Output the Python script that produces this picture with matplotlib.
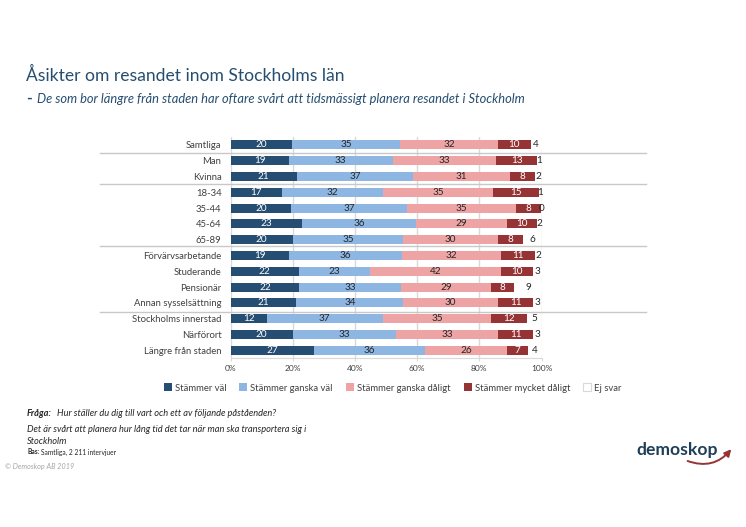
import matplotlib
matplotlib.use("Agg")
import matplotlib.pyplot as plt
import numpy as np
from matplotlib.patches import FancyArrowPatch

plt.rcParams["font.family"] = ["Lato", "DejaVu Sans"]

W, H = 746, 527
NAVY = "#264E70"
TXT = "#404040"

groups = ["Samtliga", "Man", "Kvinna", "18-34", "35-44", "45-64", "65-89",
          "Förvärvsarbetande", "Studerande", "Pensionär", "Annan sysselsättning",
          "Stockholms innerstad", "Närförort", "Längre från staden"]

# labels are the rounded values
val = [19.8, 18.7, 21.4, 16.6, 19.5, 23.1, 20.1, 18.7, 22.0, 22.1, 21.2, 11.6, 20.0, 26.9]
ganska_val = [34.7, 33.4, 37.4, 32.4, 37.4, 36.4, 35.4, 36.4, 22.8, 32.8, 34.4, 37.3, 33.2, 35.7]
ganska_daligt = [31.6, 33.4, 31.1, 35.4, 34.9, 29.4, 30.4, 31.8, 42.3, 28.8, 30.4, 34.9, 32.8, 26.3]
mycket_daligt = [10.4, 13.2, 8.0, 14.9, 8.0, 9.6, 8.3, 11.1, 10.3, 7.6, 11.3, 11.6, 11.3, 6.9]
ej_svar = [3.6, 1.2, 2.0, 0.6, 0.2, 1.6, 5.6, 2.0, 2.6, 8.7, 2.6, 4.6, 2.7, 4.2]

series = [("Stämmer väl", val, "#254E72", "white"),
          ("Stämmer ganska väl", ganska_val, "#8DB6E2", "#262626"),
          ("Stämmer ganska dåligt", ganska_daligt, "#EEA3A5", "#262626"),
          ("Stämmer mycket dåligt", mycket_daligt, "#953335", "white"),
          ("Ej svar", ej_svar, "white", "#262626")]

separators = [153, 184, 245.7, 311.7]


def fx(x):
    return x / W


def fy(y):
    return 1 - y / H


fig = plt.figure(figsize=(W / 100, H / 100), dpi=100, facecolor="white")
ax = fig.add_axes([fx(230.5), fy(358.2), 311 / W, 221.2 / H])

y = np.arange(len(groups))
left = np.zeros(len(groups))
for name, vals, color, lab_color in series:
    vals = np.array(vals)
    ax.barh(y, vals, 0.58, left=left, color=color, linewidth=0, label=name, zorder=3)
    for yi, l, v in zip(y, left, vals):
        ax.text(l + v / 2, yi, f"{v:.0f}", ha="center", va="center", fontsize=7.2,
                color=lab_color, zorder=5)
    left += vals

ax.set_xlim(0, 100)
ax.set_ylim(len(groups) - 0.5, -0.5)
ax.set_yticks(y, groups)
ax.set_xticks(np.arange(0, 101, 20), [f"{t}%" for t in range(0, 101, 20)])
ax.tick_params(axis="y", length=0, pad=6.5, labelsize=6.8, labelcolor=TXT)
ax.tick_params(axis="x", length=2, color="#D9D9D9", pad=3, labelsize=6, labelcolor=TXT)
ax.grid(axis="x", color="#D9D9D9", linewidth=1, zorder=0)
ax.set_axisbelow(True)
for side in ["top", "right", "left"]:
    ax.spines[side].set_visible(False)
ax.spines["bottom"].set_color("#D9D9D9")

# group separators run past the axes on both sides
for sy in separators:
    fig.add_artist(plt.Line2D([fx(100), fx(646)], [fy(sy), fy(sy)], color="#C8C8C8", linewidth=1))

handles, labels = ax.get_legend_handles_labels()
leg = fig.legend(handles, labels, loc="center left", bbox_to_anchor=(fx(159), fy(388)), ncol=5,
                 frameon=False, fontsize=6.8, handlelength=0.85, handleheight=0.85, handletextpad=0.3,
                 columnspacing=1.4, borderpad=0, labelcolor=TXT)
leg.get_patches()[-1].set_edgecolor("#D9D9D9")
leg.get_patches()[-1].set_linewidth(0.8)

fig.text(fx(26), fy(75), "Åsikter om resandet inom Stockholms län", fontsize=12.65, color=NAVY,
         va="center", ha="left")
fig.text(fx(26), fy(99), "-", fontsize=11, fontweight="bold", color=NAVY, va="center")
fig.text(fx(37), fy(99), "De som bor längre från staden har oftare svårt att tidsmässigt planera resandet i Stockholm",
         fontsize=9.3, style="italic", color=NAVY, va="center")

fig.text(fx(27), fy(414), "Fråga:", fontsize=6.7, style="italic", fontweight="bold", color="#262626", va="center")
fig.text(fx(57), fy(414), "Hur ställer du dig till vart och ett av följande påståenden?", fontsize=6.7,
         style="italic", color="#262626", va="center")
fig.text(fx(27), fy(429), "Det är svårt att planera hur lång tid det tar när man ska transportera sig i", fontsize=6.7,
         style="italic", color="#262626", va="center")
fig.text(fx(27), fy(441), "Stockholm", fontsize=6.7, style="italic", color="#262626", va="center")
fig.text(fx(27), fy(452), "Bas:", fontsize=4.8, fontweight="bold", color="#262626", va="center")
fig.text(fx(41), fy(452), "Samtliga, 2 211 intervjuer", fontsize=4.8, color="#262626", va="center")
fig.text(fx(5), fy(466), "© Demoskop AB 2019", fontsize=5.2, style="italic", color="#A6A6A6", va="center")

# logo
fig.text(fx(636), fy(450), "demoskop", fontsize=12.6, fontweight="bold", color="#1F3F58", va="center")
fig.add_artist(FancyArrowPatch((fx(685), fy(460)), (fx(733), fy(447)), transform=fig.transFigure,
                               connectionstyle="arc3,rad=0.38", arrowstyle="-|>", mutation_scale=10,
                               color="#953335", linewidth=1.4))

fig.savefig("out.png", dpi=100, facecolor="white")
